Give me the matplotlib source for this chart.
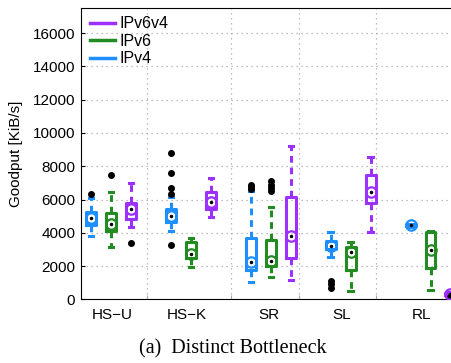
import numpy as np
import matplotlib
matplotlib.use('Agg')
import matplotlib.pyplot as plt
from matplotlib.lines import Line2D

plt.rcParams['font.family'] = ['Liberation Sans', 'DejaVu Sans']

groups = ['HS\u2212U', 'HS\u2212K', 'SR', 'SL', 'RL']
protocols = ['IPv4', 'IPv6', 'IPv6v4']
colors = {'IPv4': '#1e8fff', 'IPv6': '#228b22', 'IPv6v4': '#9b30ff'}

# whisker low, q1, median, q3, whisker high per group
v4_lo  = [3800, 4130, 1020, 2580, 4380]
v4_q1  = [4450, 4680, 1740, 3020, 4420]
v4_med = [4880, 5020, 2280, 3240, 4470]
v4_q3  = [5280, 5420, 3700, 3540, 4520]
v4_hi  = [6100, 6130, 6530, 4080, 4560]
v4_fl  = [[6350], [8820, 7580, 6680, 6340, 3260], [6650, 6750, 6850], [1130, 930, 700], []]

v6_lo  = [3140, 1980, 1340, 520, 580]
v6_q1  = [4120, 2520, 2020, 1780, 1880]
v6_med = [4540, 2740, 2340, 2880, 2980]
v6_q3  = [5220, 3480, 3580, 3140, 4080]
v6_hi  = [6480, 3700, 5580, 3480, 4140]
v6_fl  = [[7460], [], [6500, 6700, 6900, 7100], [], []]

v64_lo  = [4380, 4940, 1140, 4080, 200]
v64_q1  = [4860, 5440, 2520, 5780, 260]
v64_med = [5420, 5840, 3800, 6480, 320]
v64_q3  = [5820, 6440, 6140, 7480, 380]
v64_hi  = [7020, 7300, 9240, 8540, 420]
v64_fl  = [[3400], [], [], [], [170]]

data = {
    'IPv4': (v4_lo, v4_q1, v4_med, v4_q3, v4_hi, v4_fl),
    'IPv6': (v6_lo, v6_q1, v6_med, v6_q3, v6_hi, v6_fl),
    'IPv6v4': (v64_lo, v64_q1, v64_med, v64_q3, v64_hi, v64_fl),
}

grid_x = [3.78, 7.99, 11.39, 15.29]
label_x = [2.06, 5.81, 9.91, 13.56, 17.56]

fig = plt.figure(figsize=(4.52, 3.63), dpi=100)
ax = fig.add_axes([0.179, 0.175, 0.83, 0.804])

for k, p in enumerate(protocols):
    lo, q1, med, q3, hi, fl = data[p]
    c = colors[p]
    stats = []
    for g in range(len(groups)):
        stats.append(dict(whislo=lo[g], q1=q1[g], med=med[g], q3=q3[g],
                          whishi=hi[g], fliers=fl[g]))
    pos = [4 * g + 1 + k for g in range(len(groups))]
    ax.bxp(stats, positions=pos, widths=0.5, capwidths=0.22, showfliers=True,
           boxprops=dict(color=c, linewidth=2.2),
           whiskerprops=dict(color=c, linewidth=2.2, linestyle=(0, (2.2, 1.6))),
           capprops=dict(color=c, linewidth=2.2),
           medianprops=dict(linewidth=0),
           flierprops=dict(marker='o', markerfacecolor='black', markeredgecolor='black',
                           markersize=4))
    ax.plot(pos, med, linestyle='none', marker='o', markersize=7.5, markerfacecolor='none',
            markeredgecolor=c, markeredgewidth=1.6, zorder=4)
    ax.plot(pos, med, linestyle='none', marker='o', markersize=1.5, color='black', zorder=5)

ax.set_xlim(0.494, 19.28)
ax.set_ylim(0, 17526)
ax.set_yticks(np.arange(0, 16001, 2000))
ax.set_xticks(grid_x)
ax.set_xticklabels([])
ax.set_xticks(label_x, minor=True)
ax.set_xticklabels(groups, minor=True)
ax.tick_params(axis='x', which='minor', length=0, pad=6, labelsize=11)
ax.tick_params(axis='x', which='major', direction='in', length=3, color='#aaaaaa')
ax.tick_params(axis='y', direction='in', length=3, labelsize=11, pad=4)
ax.grid(True, which='major', linestyle=(0, (1, 3)), color='#aaaaaa', linewidth=0.9)
ax.set_axisbelow(True)
ax.spines['right'].set_visible(False)
ax.set_ylabel('Goodput [KiB/s]', fontsize=11, labelpad=7)

handles = [Line2D([], [], color=colors[p], linewidth=2.5) for p in ['IPv6v4', 'IPv6', 'IPv4']]
ax.legend(handles, ['IPv6v4', 'IPv6', 'IPv4'], loc='upper left', frameon=False,
          fontsize=11.5, handlelength=1.55, handletextpad=0.25, labelspacing=0.15,
          borderaxespad=0.0, borderpad=0.0, bbox_to_anchor=(0.025, 0.97))

fig.text(0.515, 0.04, '(a)  Distinct Bottleneck', ha='center', va='center',
         fontsize=14.5, family=['Liberation Serif', 'DejaVu Serif'])

fig.savefig('out.png', dpi=100)
